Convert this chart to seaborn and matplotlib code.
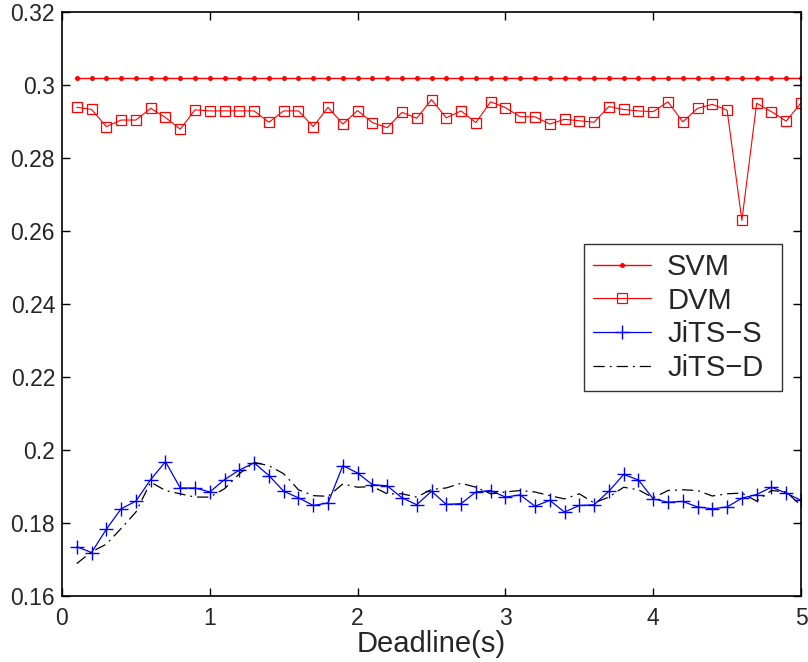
import numpy as np
import pandas as pd
import matplotlib
matplotlib.use("Agg")
import matplotlib.pyplot as plt
import seaborn as sns

# Deadline values (s)
deadline = [round(0.1 * i, 1) for i in range(1, 51)]

svm = [0.302] * 50

dvm = [0.2939, 0.2933, 0.2886, 0.2904, 0.2904, 0.2936, 0.2911, 0.2879, 0.2932, 0.2929,
       0.2929, 0.2929, 0.2929, 0.2898, 0.2929, 0.2929, 0.2886, 0.2939, 0.2893, 0.2930,
       0.2897, 0.2883, 0.2925, 0.2909, 0.2960, 0.2910, 0.2929, 0.2897, 0.2954, 0.2938,
       0.2913, 0.2913, 0.2893, 0.2906, 0.2902, 0.2898, 0.2941, 0.2933, 0.2929, 0.2927,
       0.2954, 0.2899, 0.2936, 0.2947, 0.2931, 0.2629, 0.2950, 0.2927, 0.2901, 0.2951]

jits_s = [0.1735, 0.1719, 0.1783, 0.1839, 0.1860, 0.1919, 0.1968, 0.1896, 0.1896, 0.1885,
          0.1919, 0.1945, 0.1965, 0.1930, 0.1887, 0.1869, 0.1848, 0.1855, 0.1957, 0.1937,
          0.1905, 0.1902, 0.1869, 0.1850, 0.1887, 0.1851, 0.1853, 0.1885, 0.1889, 0.1871,
          0.1877, 0.1846, 0.1862, 0.1830, 0.1848, 0.1850, 0.1887, 0.1933, 0.1918, 0.1866,
          0.1857, 0.1859, 0.1844, 0.1839, 0.1844, 0.1868, 0.1878, 0.1898, 0.1882, 0.1862]

jits_d = [0.1689, 0.1721, 0.1742, 0.1785, 0.1830, 0.1912, 0.1889, 0.1880, 0.1871, 0.1871,
          0.1894, 0.1935, 0.1966, 0.1957, 0.1935, 0.1891, 0.1875, 0.1873, 0.1907, 0.1898,
          0.1900, 0.1880, 0.1880, 0.1871, 0.1892, 0.1896, 0.1909, 0.1898, 0.1880, 0.1885,
          0.1889, 0.1885, 0.1875, 0.1866, 0.1880, 0.1855, 0.1871, 0.1898, 0.1891, 0.1869,
          0.1889, 0.1891, 0.1889, 0.1874, 0.1880, 0.1882, 0.1860, 0.1889, 0.1885, 0.1848]

x_ticks = [0, 1, 2, 3, 4, 5]
x_tick_labels = ["0", "1", "2", "3", "4", "5"]
y_ticks = [0.16, 0.18, 0.2, 0.22, 0.24, 0.26, 0.28, 0.3, 0.32]
y_tick_labels = ["0.16", "0.18", "0.2", "0.22", "0.24", "0.26", "0.28", "0.3", "0.32"]

sns.set_style("ticks", {"xtick.direction": "in", "ytick.direction": "in"})
plt.rcParams["font.family"] = ["Liberation Sans", "DejaVu Sans"]

fig = plt.figure(figsize=(8.08, 6.62), dpi=100)
ax = fig.add_axes([62 / 808, 1 - 596 / 662, 739 / 808, 584 / 662])

sns.lineplot(x=deadline, y=svm, ax=ax, color="red", lw=1.0, marker="o",
             markersize=2.8, markeredgecolor="red", markerfacecolor="red",
             label="SVM")
sns.lineplot(x=deadline, y=dvm, ax=ax, color="red", lw=0.8, marker="s",
             markersize=7.5, markeredgecolor="red", markerfacecolor="none",
             markeredgewidth=0.9, label="DVM")
sns.lineplot(x=deadline, y=jits_s, ax=ax, color="blue", lw=0.9, marker="+",
             markersize=10, markeredgecolor="blue", markeredgewidth=1.0,
             label="JiTS\u2212S")
sns.lineplot(x=deadline, y=jits_d, ax=ax, color="black", lw=0.9,
             linestyle=(0, (9, 4, 1.5, 4)), label="JiTS\u2212D")

ax.set_xlim(0, 5)
ax.set_ylim(0.16, 0.32)
ax.set_xticks(x_ticks)
ax.set_xticklabels(x_tick_labels)
ax.set_yticks(y_ticks)
ax.set_yticklabels(y_tick_labels)
ax.tick_params(axis="both", which="both", direction="in", length=6, width=1,
               labelsize=16.5, top=True, right=True, color="black")
ax.tick_params(axis="x", pad=8)
ax.tick_params(axis="y", pad=5)
for s in ax.spines.values():
    s.set_visible(True)
    s.set_linewidth(1.2)
    s.set_color("black")
ax.set_xlabel("Deadline(s)", fontsize=21, labelpad=0)
ax.set_ylabel("")

# legend box spans a fixed width; entries stay left aligned inside it
leg = ax.legend(loc="upper left",
                bbox_to_anchor=(522 / 739, 1 - 232 / 584, 198 / 739, 0.0),
                mode="expand",
                fontsize=21, frameon=True, fancybox=False, edgecolor="black",
                handlelength=2.0, handletextpad=0.55, borderpad=0.3,
                labelspacing=0.2, borderaxespad=0)
leg.get_frame().set_linewidth(1.0)

fig.savefig("out.png", dpi=100)
